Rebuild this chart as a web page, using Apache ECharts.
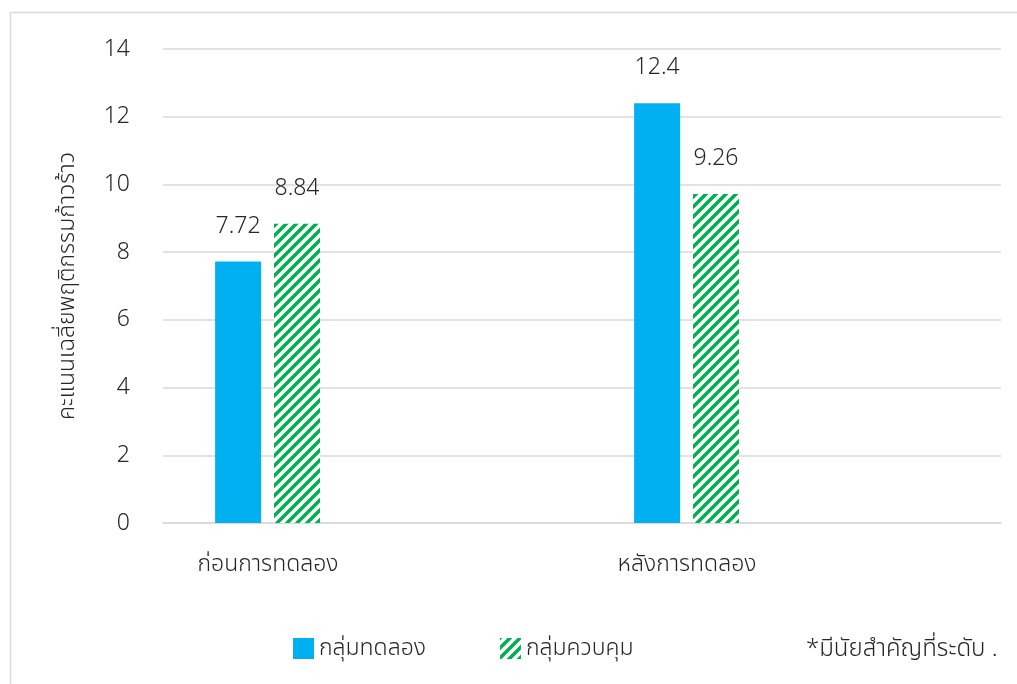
<!DOCTYPE html>
<html>
<head>
<meta charset="utf-8">
<script src="https://cdn.jsdelivr.net/npm/echarts@6/dist/echarts.min.js"></script>
<style>
  html, body { margin: 0; padding: 0; background: #fff; }
  #chart { width: 1017px; height: 684px; }
</style>
</head>
<body>
<div id="chart"></div>
<script>
var categories = ['ก่อนการทดลอง', 'หลังการทดลอง'];
var experimentValues = [7.72, 12.4];
var controlValues = [8.84, 9.72];
var controlLabels = ['8.84', '9.26'];
var yTicks = { min: 0, max: 14, interval: 2 };

var font = '"Noto Sans", "Noto Sans Thai", "DejaVu Sans", sans-serif';
var txt = { fontSize: 23, fontWeight: 300, color: '#262626', fontFamily: font };

// green wide upward diagonal hatch
var hatch = document.createElement('canvas');
hatch.width = 10;
hatch.height = 10;
var ctx = hatch.getContext('2d');
ctx.fillStyle = '#fff';
ctx.fillRect(0, 0, 10, 10);
ctx.strokeStyle = '#00b050';
ctx.lineWidth = 3.5;
ctx.beginPath();
ctx.moveTo(-2, 12); ctx.lineTo(12, -2);
ctx.moveTo(-7, 7); ctx.lineTo(7, -7);
ctx.moveTo(3, 17); ctx.lineTo(17, 3);
ctx.stroke();

var chart = echarts.init(document.getElementById('chart'));

option = {
    animation: false,
    backgroundColor: '#fff',
    textStyle: { fontFamily: font },
    graphic: [{
        type: 'rect',
        shape: { x: 10.5, y: 12.5, width: 1100, height: 800 },
        style: { fill: 'none', stroke: '#d9d9d9', lineWidth: 1.5 },
        silent: true
    }],
    grid: {
        left: 163,
        right: 16,
        top: 49,
        bottom: 161
    },
    legend: [{
        left: 288,
        top: 632,
        icon: 'rect',
        itemWidth: 21,
        itemHeight: 21,
        itemGap: 74,
        textStyle: txt,
        data: ['กลุ่มทดลอง', 'กลุ่มควบคุม']
    }, {
        left: 775,
        top: 632,
        icon: 'rect',
        itemWidth: 21,
        itemHeight: 21,
        textStyle: Object.assign({}, txt, { fontSize: 24 }),
        data: ['*มีนัยสำคัญที่ระดับ .']
    }],
    xAxis: {
        type: 'category',
        data: categories,
        axisTick: { show: false },
        axisLine: { lineStyle: { color: '#d9d9d9', width: 1.5 } },
        axisLabel: Object.assign({ margin: 30, padding: [0, 209, 0, 0] }, txt)
    },
    yAxis: {
        type: 'value',
        min: yTicks.min,
        max: yTicks.max,
        interval: yTicks.interval,
        name: 'คะแนนเฉลี่ยพฤติกรรมก้าวร้าว',
        nameLocation: 'middle',
        nameGap: 84,
        nameTextStyle: txt,
        axisLine: { show: false },
        axisTick: { show: false },
        axisLabel: Object.assign({ margin: 33 }, txt),
        splitLine: { lineStyle: { color: '#d9d9d9', width: 1.5 } }
    },
    series: [{
        name: 'กลุ่มทดลอง',
        type: 'bar',
        barWidth: 46,
        barGap: '28%',
        itemStyle: { color: '#00b0f0' },
        label: Object.assign({ show: true, position: 'top', distance: 24 }, txt),
        data: experimentValues
    }, {
        name: 'กลุ่มควบคุม',
        type: 'bar',
        barWidth: 46,
        barGap: '28%',
        itemStyle: { color: { image: hatch, repeat: 'repeat' } },
        label: Object.assign({
            show: true,
            position: 'top',
            distance: 24,
            formatter: function (p) { return controlLabels[p.dataIndex]; }
        }, txt),
        data: controlValues
    }, {
        name: '*มีนัยสำคัญที่ระดับ .',
        type: 'bar',
        barWidth: 197,
        barGap: '28%',
        itemStyle: { color: 'rgba(0,0,0,0)' },
        silent: true,
        data: [0, 0]
    }]
};

chart.setOption(option, true);
</script>
</body>
</html>
